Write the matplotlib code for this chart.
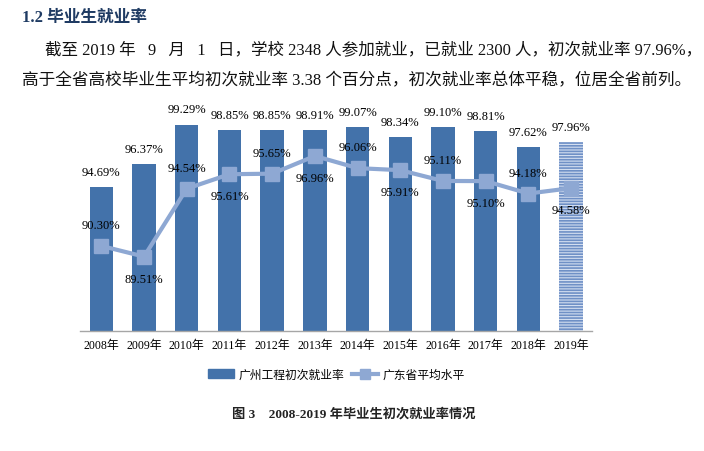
import matplotlib
matplotlib.use("Agg")
import matplotlib.pyplot as plt
from matplotlib.lines import Line2D
from matplotlib.patches import Patch

plt.rcParams['font.family'] = ['Liberation Serif', 'Noto Sans CJK SC']

# data
years = ['2008年', '2009年', '2010年', '2011年', '2012年', '2013年',
         '2014年', '2015年', '2016年', '2017年', '2018年', '2019年']
school_rate = [94.69, 96.37, 99.29, 98.85, 98.85, 98.91,
               99.07, 98.34, 99.10, 98.81, 97.62, 97.96]
province_avg = [90.30, 89.51, 94.54, 95.61, 95.65, 96.96,
                96.06, 95.91, 95.11, 95.10, 94.18, 94.58]

bar_color = '#4372AA'
line_color = '#8EA8D3'

fig = plt.figure(figsize=(7.04, 4.52), dpi=100)

# heading and paragraph
fig.text(0.031, 0.960, '1.2 毕业生就业率', fontsize=12, fontweight='bold',
         color='#1F3B63', va='center', ha='left')
fig.text(0.064, 0.889,
         '截至 2019 年   9   月   1   日，学校 2348 人参加就业，已就业 2300 人，初次就业率 97.96%，',
         fontsize=11.9, va='center', ha='left', color='#111111')
fig.text(0.031, 0.821,
         '高于全省高校毕业生平均初次就业率 3.38 个百分点，初次就业率总体平稳，位居全省前列。',
         fontsize=12.0, va='center', ha='left', color='#111111')

ax = fig.add_axes([0.1136, 0.2655, 0.728, 0.478])
x = list(range(len(years)))

ax.bar(x[:-1], school_rate[:-1], width=0.55, color=bar_color, zorder=2)
plt.rcParams['hatch.linewidth'] = 1.2
ax.bar(x[-1:], school_rate[-1:], width=0.55, facecolor='#d3def0',
       edgecolor='#6f90c6', hatch='------', linewidth=0, zorder=2)

ax.plot(x, province_avg, color=line_color, lw=3, marker='s', markersize=10,
        zorder=3)

for i, v in enumerate(school_rate):
    ax.annotate(f'{v:.2f}%', (i, v), xytext=(0, 6.5), textcoords='offset points',
                ha='center', va='bottom', fontsize=9)

for i, v in enumerate(province_avg):
    dy = 15 if i % 2 == 0 else -16
    ax.annotate(f'{v:.2f}%', (i, v), xytext=(0, dy), textcoords='offset points',
                ha='center', va='center', fontsize=9, zorder=4)

ax.set_ylim(84, 100)
ax.set_xlim(-0.5, len(years) - 0.5)
ax.set_xticks(x)
ax.set_xticklabels(years, fontsize=8.6)
ax.tick_params(axis='x', length=0, pad=6)
ax.set_yticks([])
for s in ['top', 'right', 'left']:
    ax.spines[s].set_visible(False)
ax.spines['bottom'].set_color('#A6A6A6')
ax.spines['bottom'].set_linewidth(1)

handles = [Patch(color=bar_color),
           Line2D([], [], color=line_color, lw=3, marker='s', markersize=7)]
fig.legend(handles, ['广州工程初次就业率', '广东省平均水平'], ncol=2,
           loc='center', bbox_to_anchor=(0.478, 0.170), frameon=False,
           prop={'family': ['Noto Sans CJK SC'], 'size': 8.5},
           handlelength=2.2, handletextpad=0.4, columnspacing=0.6)

fig.text(0.503, 0.084, '图 3    2008-2019 年毕业生初次就业率情况',
         fontsize=9.5, fontweight='bold', ha='center', va='center',
         color='#222222')

fig.savefig('out.png', dpi=100)
